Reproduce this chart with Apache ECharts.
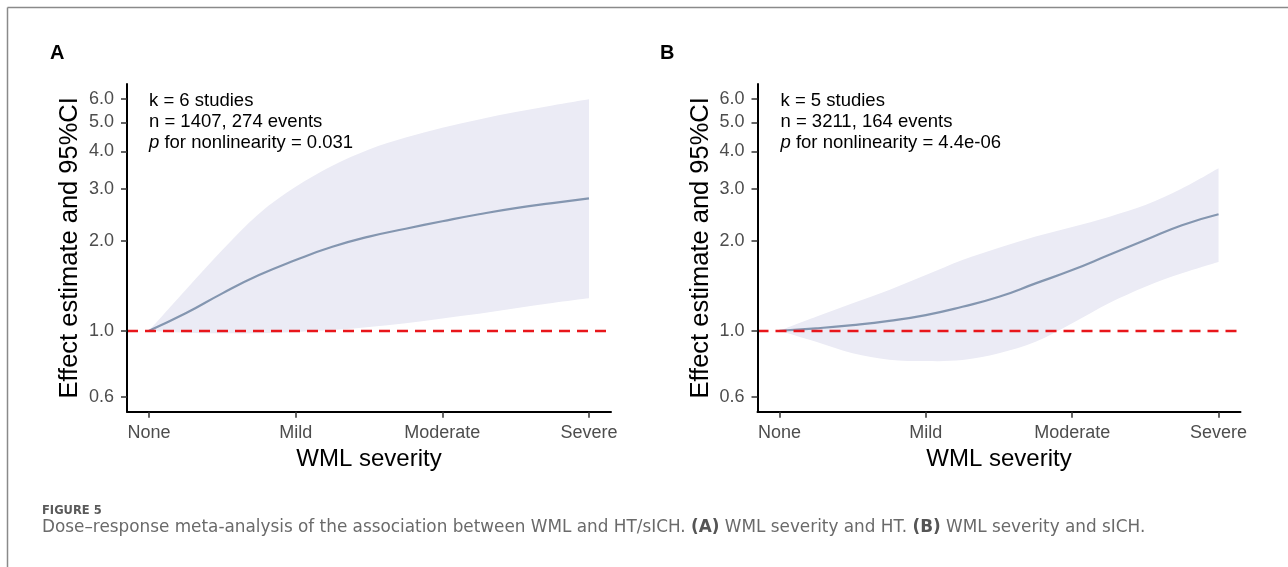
<!DOCTYPE html>
<html>
<head>
<meta charset="utf-8">
<script src="https://cdn.jsdelivr.net/npm/echarts@6/dist/echarts.min.js"></script>
<style>
html,body{margin:0;padding:0;background:#fff;}
#chart{width:1288px;height:567px;}
</style>
</head>
<body>
<div id="chart"></div>
<script>
// ---- data ----
const severityLevels = ['None', 'Mild', 'Moderate', 'Severe'];
const xPositions = [0, 0.25, 0.5, 0.75, 1, 1.25, 1.5, 1.75, 2, 2.25, 2.5, 2.75, 3];
const yTickValues = [0.6, 1, 2, 3, 4, 5, 6];

// Panel A: WML severity and HT
const aEstimate = [1.0, 1.144, 1.335, 1.537, 1.727, 1.913, 2.07, 2.20, 2.33, 2.46, 2.58, 2.68, 2.78];
const aUpper    = [1.0, 1.37, 1.865, 2.47, 3.04, 3.58, 4.06, 4.45, 4.80, 5.12, 5.42, 5.70, 5.98];
const aLower    = [1.0, 0.985, 0.98, 0.98, 0.99, 1.005, 1.03, 1.06, 1.10, 1.14, 1.19, 1.24, 1.285];
const aNote = ['k = 6 studies', 'n = 1407, 274 events', '0.031'];

// Panel B: WML severity and sICH
const bEstimate = [1.0, 1.019, 1.045, 1.08, 1.129, 1.204, 1.30, 1.442, 1.598, 1.795, 2.015, 2.26, 2.46];
const bUpper    = [1.0, 1.114, 1.236, 1.37, 1.537, 1.727, 1.90, 2.07, 2.23, 2.41, 2.64, 3.0, 3.51];
const bLower    = [1.0, 0.918, 0.84, 0.80, 0.791, 0.797, 0.84, 0.918, 1.059, 1.236, 1.405, 1.558, 1.70];
const bNote = ['k = 5 studies', 'n = 3211, 164 events', '4.4e-06'];

const referenceValue = 1;

// ---- styles ----
const FONT = '"Liberation Sans", Arial, sans-serif';
const CAPFONT = '"DejaVu Sans", sans-serif';
const bandColor = '#ebebf5';
const lineColor = '#8496b0';

function pairs(arr) { return xPositions.map((x, i) => [x, arr[i]]); }

const grids = [
  { left: 127, top: 84, width: 484, height: 327.7 },
  { left: 757.5, top: 84, width: 483, height: 327.7 }
];

function xAxisFor(i) {
  return {
    gridIndex: i, type: 'value', min: -0.15, max: 3.15, z: 10,
    name: 'WML severity', nameLocation: 'middle', nameGap: 36,
    nameTextStyle: { fontFamily: FONT, fontSize: 24, color: '#000' },
    axisLine: { show: true, onZero: false, lineStyle: { color: '#000', width: 2 } },
    axisTick: { show: true, length: 6, customValues: [0, 1, 2, 3], lineStyle: { color: '#333', width: 1.5 } },
    axisLabel: { customValues: [0, 1, 2, 3], margin: 12, fontFamily: FONT, fontSize: 18, color: '#4d4d4d',
      formatter: v => severityLevels[Math.round(v)] },
    splitLine: { show: false }
  };
}
function yAxisFor(i) {
  return {
    gridIndex: i, type: 'log', logBase: 10, min: 0.535, max: 6.73, z: 10,
    name: 'Effect estimate and 95%CI', nameLocation: 'middle', nameGap: 44,
    nameTextStyle: { fontFamily: FONT, fontSize: 25.5, color: '#000' },
    axisLine: { show: true, onZero: false, lineStyle: { color: '#000', width: 2 } },
    axisTick: { show: true, length: 6, customValues: yTickValues, lineStyle: { color: '#333', width: 1.5 } },
    axisLabel: { customValues: yTickValues, margin: 13, fontFamily: FONT, fontSize: 18, color: '#4d4d4d',
      formatter: v => Number(v).toFixed(1) },
    splitLine: { show: false }, minorTick: { show: false }
  };
}

// Smooth (Catmull-Rom -> cubic Bezier) path segment through already-projected points
function smoothSegments(pts) {
  let d = '';
  for (let i = 0; i < pts.length - 1; i++) {
    const p0 = pts[Math.max(i - 1, 0)], p1 = pts[i], p2 = pts[i + 1], p3 = pts[Math.min(i + 2, pts.length - 1)];
    const c1 = [p1[0] + (p2[0] - p0[0]) / 6, p1[1] + (p2[1] - p0[1]) / 6];
    const c2 = [p2[0] - (p3[0] - p1[0]) / 6, p2[1] - (p3[1] - p1[1]) / 6];
    d += ' C' + c1[0] + ',' + c1[1] + ' ' + c2[0] + ',' + c2[1] + ' ' + p2[0] + ',' + p2[1];
  }
  return d;
}

function bandSeries(i, up, lo) {
  return {
    type: 'custom', coordinateSystem: 'cartesian2d', xAxisIndex: i, yAxisIndex: i, silent: true, z: 1,
    data: [[xPositions[0], up[0]]],
    renderItem: function (params, api) {
      const upPts = xPositions.map((x, k) => api.coord([x, up[k]]));
      const loPts = xPositions.map((x, k) => api.coord([x, lo[k]])).reverse();
      let d = 'M' + upPts[0][0] + ',' + upPts[0][1] + smoothSegments(upPts);
      d += ' L' + loPts[0][0] + ',' + loPts[0][1] + smoothSegments(loPts) + ' Z';
      return { type: 'path', shape: { pathData: d }, style: { fill: bandColor, stroke: null } };
    }
  };
}

function panelSeries(i, est, up, lo) {
  return [
    bandSeries(i, up, lo),
    { type: 'line', xAxisIndex: i, yAxisIndex: i, data: pairs(est), smooth: true, showSymbol: false, silent: true,
      lineStyle: { width: 2.2, color: lineColor }, z: 3 },
    { type: 'line', xAxisIndex: i, yAxisIndex: i, data: [], silent: true, z: 5,
      markLine: { silent: true, symbol: ['none', 'none'], label: { show: false },
        lineStyle: { color: '#e8161b', type: [11, 7], width: 2.4 },
        data: [{ yAxis: referenceValue }] } }
  ];
}

function noteText(x, note) {
  return {
    type: 'text', x: x, y: 90, z: 20,
    style: {
      text: '{n|' + note[0] + '}\n{n|' + note[1] + '}\n{i|p}{n| for nonlinearity = ' + note[2] + '}',
      verticalAlign: 'top', align: 'left',
      rich: {
        n: { fontFamily: FONT, fontSize: 18.5, lineHeight: 21.3, fill: '#000' },
        i: { fontFamily: FONT, fontSize: 18.5, lineHeight: 21.3, fontStyle: 'italic', fill: '#000' }
      }
    }
  };
}

const chart = echarts.init(document.getElementById('chart'), null, { renderer: 'canvas' });
chart.setOption({
  backgroundColor: '#fff',
  animation: false,
  grid: grids,
  xAxis: [xAxisFor(0), xAxisFor(1)],
  yAxis: [yAxisFor(0), yAxisFor(1)],
  series: [].concat(panelSeries(0, aEstimate, aUpper, aLower), panelSeries(1, bEstimate, bUpper, bLower)),
  graphic: [
    { type: 'line', shape: { x1: 7.5, y1: 7.5, x2: 1288, y2: 7.5 }, style: { stroke: '#8a8a8a', lineWidth: 1.5 } },
    { type: 'line', shape: { x1: 7.5, y1: 7.5, x2: 7.5, y2: 567 }, style: { stroke: '#8a8a8a', lineWidth: 1.5 } },
    { type: 'text', x: 50, y: 53, style: { text: 'A', fontFamily: FONT, fontWeight: 'bold', fontSize: 20, fill: '#000', verticalAlign: 'middle' } },
    { type: 'text', x: 660, y: 53, style: { text: 'B', fontFamily: FONT, fontWeight: 'bold', fontSize: 20, fill: '#000', verticalAlign: 'middle' } },
    noteText(149, aNote),
    noteText(780.5, bNote),
    { type: 'text', x: 42, y: 511, style: { text: 'FIGURE 5', fontFamily: CAPFONT, fontWeight: 'bold', fontSize: 11.5, fill: '#5a5a5a', verticalAlign: 'middle' } },
    { type: 'text', x: 42, y: 528, style: {
      text: '{t|Dose–response meta-analysis of the association between WML and HT/sICH. }{b|(A)}{t| WML severity and HT. }{b|(B)}{t| WML severity and sICH.}',
      verticalAlign: 'middle',
      rich: {
        t: { fontFamily: CAPFONT, fontSize: 16.85, fill: '#6a6a6a' },
        b: { fontFamily: CAPFONT, fontSize: 16.85, fontWeight: 'bold', fill: '#555' }
      } } }
  ]
});
</script>
</body>
</html>
